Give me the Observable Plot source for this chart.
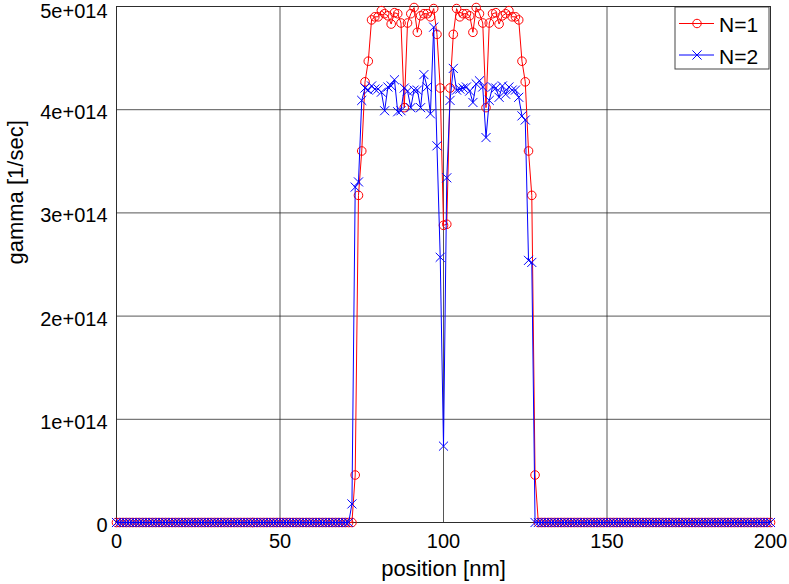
<!DOCTYPE html>
<html><head><meta charset="utf-8">
<script src="https://cdn.jsdelivr.net/npm/d3@7"></script>
<script src="https://cdn.jsdelivr.net/npm/@observablehq/plot@0.6"></script>
<style>body{margin:0;background:#fff}</style>
</head><body><div id="chart"></div>
<script>
// x grid: positions in nm
const positions = d3.range(0, 201, 1);
// gamma in units of 1e14 1/sec
const gammaN1 = [
  0,0,0,0,0,0,0,0,0,0,
  0,0,0,0,0,0,0,0,0,0,
  0,0,0,0,0,0,0,0,0,0,
  0,0,0,0,0,0,0,0,0,0,
  0,0,0,0,0,0,0,0,0,0,
  0,0,0,0,0,0,0,0,0,0,
  0,0,0,0,0,0,0,0,0,0,
  0,0,0,0.46,3.17,3.60,4.27,4.47,4.87,4.90,
  4.90,4.96,4.93,4.91,4.83,4.94,4.93,4.84,4.02,4.84,
  4.93,4.99,4.75,4.91,4.93,4.93,4.90,4.98,4.73,4.21,
  2.88,2.89,4.21,4.73,4.98,4.90,4.93,4.93,4.91,4.75,
  4.99,4.93,4.84,4.02,4.84,4.93,4.94,4.83,4.91,4.93,
  4.96,4.90,4.90,4.87,4.47,4.27,3.60,3.17,0.46,0,
  0,0,0,0,0,0,0,0,0,0,
  0,0,0,0,0,0,0,0,0,0,
  0,0,0,0,0,0,0,0,0,0,
  0,0,0,0,0,0,0,0,0,0,
  0,0,0,0,0,0,0,0,0,0,
  0,0,0,0,0,0,0,0,0,0,
  0,0,0,0,0,0,0,0,0,0,
  0
];
const gammaN2 = [
  0,0,0,0,0,0,0,0,0,0,
  0,0,0,0,0,0,0,0,0,0,
  0,0,0,0,0,0,0,0,0,0,
  0,0,0,0,0,0,0,0,0,0,
  0,0,0,0,0,0,0,0,0,0,
  0,0,0,0,0,0,0,0,0,0,
  0,0,0,0,0,0,0,0,0,0,
  0,0,0.18,3.25,3.30,4.09,4.21,4.19,4.23,4.20,
  4.20,4.17,3.99,4.22,4.23,4.29,3.98,3.99,4.21,4.18,
  4.02,4.19,4.19,4.02,4.34,4.22,3.96,4.80,3.65,2.57,
  0.74,3.34,4.09,4.40,4.19,4.20,4.21,4.22,4.18,4.07,
  4.25,4.28,4.22,3.73,4.09,4.22,4.21,4.12,4.23,4.15,
  4.22,4.19,4.19,4.12,3.94,3.90,2.54,2.52,0,0,
  0,0,0,0,0,0,0,0,0,0,
  0,0,0,0,0,0,0,0,0,0,
  0,0,0,0,0,0,0,0,0,0,
  0,0,0,0,0,0,0,0,0,0,
  0,0,0,0,0,0,0,0,0,0,
  0,0,0,0,0,0,0,0,0,0,
  0,0,0,0,0,0,0,0,0,0,
  0
];
const xTicks = [0, 50, 100, 150, 200];
const yTicks = [0, 1, 2, 3, 4, 5];
const yTickLabels = ["0", "1e+014", "2e+014", "3e+014", "4e+014", "5e+014"];
const seriesNames = ["N=1", "N=2"];
const seriesColors = ["#ff0000", "#0000ff"];

const d1 = positions.map((x, i) => ({x, y: gammaN1[i]}));
const d2 = positions.map((x, i) => ({x, y: gammaN2[i]}));

const font = "'Liberation Sans', Arial, Helvetica, sans-serif";
const gridColor = "#262626";
const yFmt = d => yTickLabels[yTicks.indexOf(d)];
const topTick = yTicks[yTicks.length - 1];

const chart = Plot.plot({
  width: 789, height: 584,
  marginLeft: 116, marginRight: 19, marginTop: 6, marginBottom: 62,
  style: {fontFamily: font, fontSize: "20px", color: "#000", background: "#fff", overflow: "visible"},
  x: {domain: [0, 200]},
  y: {domain: [0, 5]},
  marks: [
    Plot.gridX(xTicks, {stroke: gridColor, strokeOpacity: 0.78, strokeWidth: 1}),
    Plot.gridY(yTicks, {stroke: gridColor, strokeOpacity: 0.78, strokeWidth: 1}),
    Plot.frame({stroke: gridColor, strokeOpacity: 0.85}),
    Plot.axisX(xTicks, {tickSize: 0, tickPadding: 11, label: null, fontSize: 20, fill: "#000"}),
    Plot.axisY(yTicks.filter(t => t !== topTick), {tickSize: 0, tickPadding: 9, dy: 3, label: null, fontSize: 20, fill: "#000", tickFormat: yFmt}),
    Plot.axisY([topTick], {tickSize: 0, tickPadding: 9, dy: 5.5, label: null, fontSize: 20, fill: "#000", tickFormat: yFmt}),
    Plot.text(["position [nm]"], {frameAnchor: "bottom", dy: 46, lineAnchor: "middle", fontSize: 22, fill: "#000"}),
    Plot.text(["gamma [1/sec]"], {frameAnchor: "left", dx: -101, rotate: -90, lineAnchor: "middle", fontSize: 22, fill: "#000"}),
    Plot.line(d1, {x: "x", y: "y", stroke: seriesColors[0], strokeWidth: 1}),
    Plot.dot(d1, {x: "x", y: "y", r: 4.3, symbol: "circle", stroke: seriesColors[0], fill: "none", strokeWidth: 1}),
    Plot.line(d2, {x: "x", y: "y", stroke: seriesColors[1], strokeWidth: 1}),
    Plot.dot(d2, {x: "x", y: "y", r: 4.2, symbol: "times", stroke: seriesColors[1], fill: "none", strokeWidth: 1})
  ]
});
document.getElementById("chart").appendChild(chart);

// legend (top-right, inside plot area)
const svg = d3.select(chart);
const lg = svg.append("g").attr("font-family", font).attr("font-size", 21).attr("text-anchor", "start");
lg.append("rect").attr("x", 675).attr("y", 7).attr("width", 94).attr("height", 62)
  .attr("fill", "#fff").attr("stroke", gridColor).attr("stroke-opacity", 0.85);
const rows = [23.5, 55];
seriesNames.forEach((name, i) => {
  const y = rows[i];
  lg.append("line").attr("x1", 679).attr("x2", 714).attr("y1", y).attr("y2", y)
    .attr("stroke", seriesColors[i]).attr("stroke-width", 1);
  const sym = i === 0 ? d3.symbolCircle : d3.symbolTimes;
  lg.append("path").attr("transform", `translate(697,${y})`)
    .attr("d", d3.symbol(sym, 18 * Math.PI)())
    .attr("fill", "none").attr("stroke", seriesColors[i]).attr("stroke-width", 1);
  lg.append("text").attr("x", 719).attr("y", y + 8.5).attr("fill", "#000").text(name);
});
</script>
</body></html>
